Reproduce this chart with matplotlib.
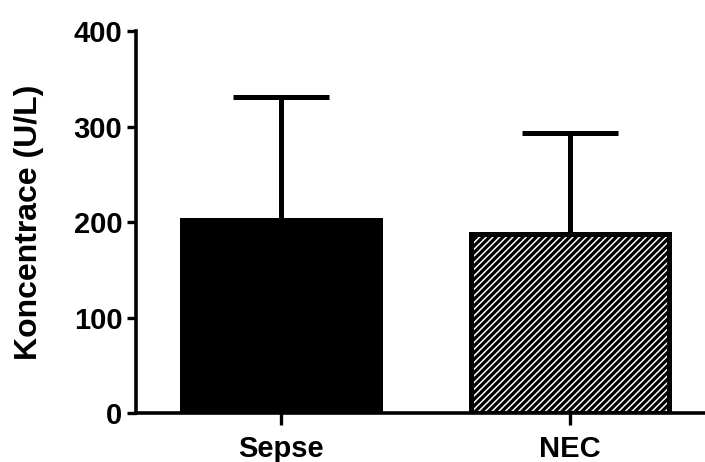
import matplotlib
matplotlib.use("Agg")
import matplotlib.pyplot as plt

# group means and upper SD (U/L)
groups = ["Sepse", "NEC"]
means = [202, 188]
sd_upper = [129, 105]
yticks = [0, 100, 200, 300, 400]

plt.rcParams["font.family"] = ["Liberation Sans", "DejaVu Sans"]
plt.rcParams["font.weight"] = "bold"
plt.rcParams["hatch.linewidth"] = 2.3
plt.rcParams["hatch.color"] = "black"

fig = plt.figure(figsize=(7.05, 4.62), dpi=100)
ax = fig.add_axes([0.1922, 0.105, 0.8078, 0.828])

x = list(range(len(groups)))
bars = ax.bar(x, means, width=0.685, color=["black", "white"],
              edgecolor="black", linewidth=3.6, zorder=2)
bars[1].set_hatch("/////")

ax.errorbar(x, means, yerr=[[0] * len(sd_upper), sd_upper], fmt="none",
            ecolor="black", elinewidth=3.6, capsize=34.5, capthick=3.6, zorder=1)

ax.set_xlim(-0.505, 1.467)
ax.set_ylim(0, 400)
ax.set_yticks(yticks)
ax.set_xticks(x)
ax.set_xticklabels(groups)

for side in ("top", "right"):
    ax.spines[side].set_visible(False)
for side in ("left", "bottom"):
    ax.spines[side].set_linewidth(2.6)
ax.spines["bottom"].set_zorder(3)

ax.tick_params(axis="y", length=6.5, width=2.4, pad=3, labelsize=21)
ax.tick_params(axis="x", length=8.5, width=2.4, pad=7, labelsize=21)
for lbl in ax.get_xticklabels() + ax.get_yticklabels():
    lbl.set_fontweight("bold")

ax.set_ylabel("Koncentrace (U/L)", fontsize=23, fontweight="bold", labelpad=21)

fig.savefig("out.png", dpi=100)
